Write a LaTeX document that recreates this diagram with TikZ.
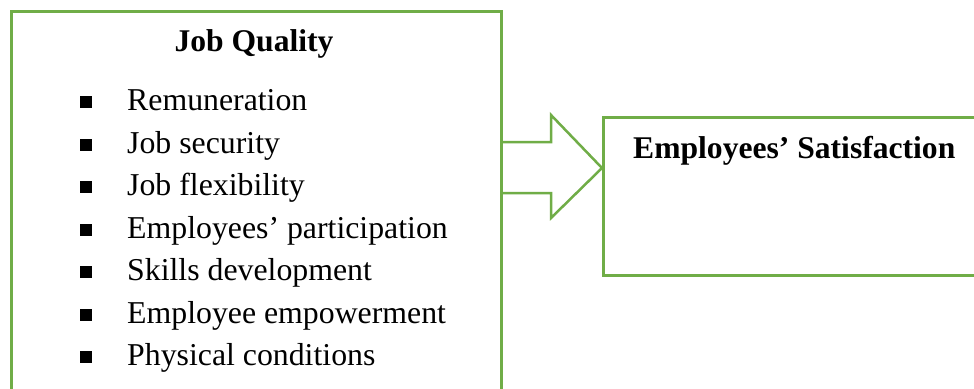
\documentclass[tikz,border=0pt]{standalone}
\usepackage{fontspec}
\setmainfont{Liberation Serif}
\usetikzlibrary{positioning}
\definecolor{boxgreen}{HTML}{70AD47}
\tikzset{
  frame/.style={draw=boxgreen,line width=2.5pt},
  item/.style={anchor=base west,inner sep=0pt,font=\fontsize{31.8}{38}\selectfont},
  head/.style={anchor=base,inner sep=0pt,font=\fontsize{31.6}{38}\selectfont\bfseries},
  bullet/.style={fill=black,minimum size=12pt,inner sep=0pt}
}
\begin{document}
\begin{tikzpicture}[x=1pt,y=-1pt]
  \useasboundingbox (0,0) rectangle (974,388);
  \clip (0,0) rectangle (974,388);
  \fill[white] (0,0) rectangle (974,388);
  % boxes
  \node[frame,minimum width=490pt,minimum height=392pt,anchor=north west] (quality) at (10,10) {};
  \node[frame,minimum width=390pt,minimum height=158pt,anchor=north west] (satisf) at (602,116) {};
  \node[head] (qtitle) at (254,51) {Job Quality};
  \node[head,anchor=base west] (stitle) at (633,158) {Employees’ Satisfaction};
  \foreach \txt [count=\i] in {Remuneration,Job security,Job flexibility,Employees’ participation,Skills development,Employee empowerment,Physical conditions}
  {
    \node[bullet] (b\i) at (86,{102+42.5*(\i-1)}) {};
    \node[item] (t\i) at (127,{110.7+42.5*(\i-1)}) {\txt};
  }
  % block arrow
  \coordinate (tip) at (satisf.west |- 0,168);
  \draw[frame,line join=miter] (quality.east |- 0,142) -- (551,142) -- (551,115) -- (tip)
    -- (551,218) -- (551,193) -- (quality.east |- 0,193);
\end{tikzpicture}
\end{document}
